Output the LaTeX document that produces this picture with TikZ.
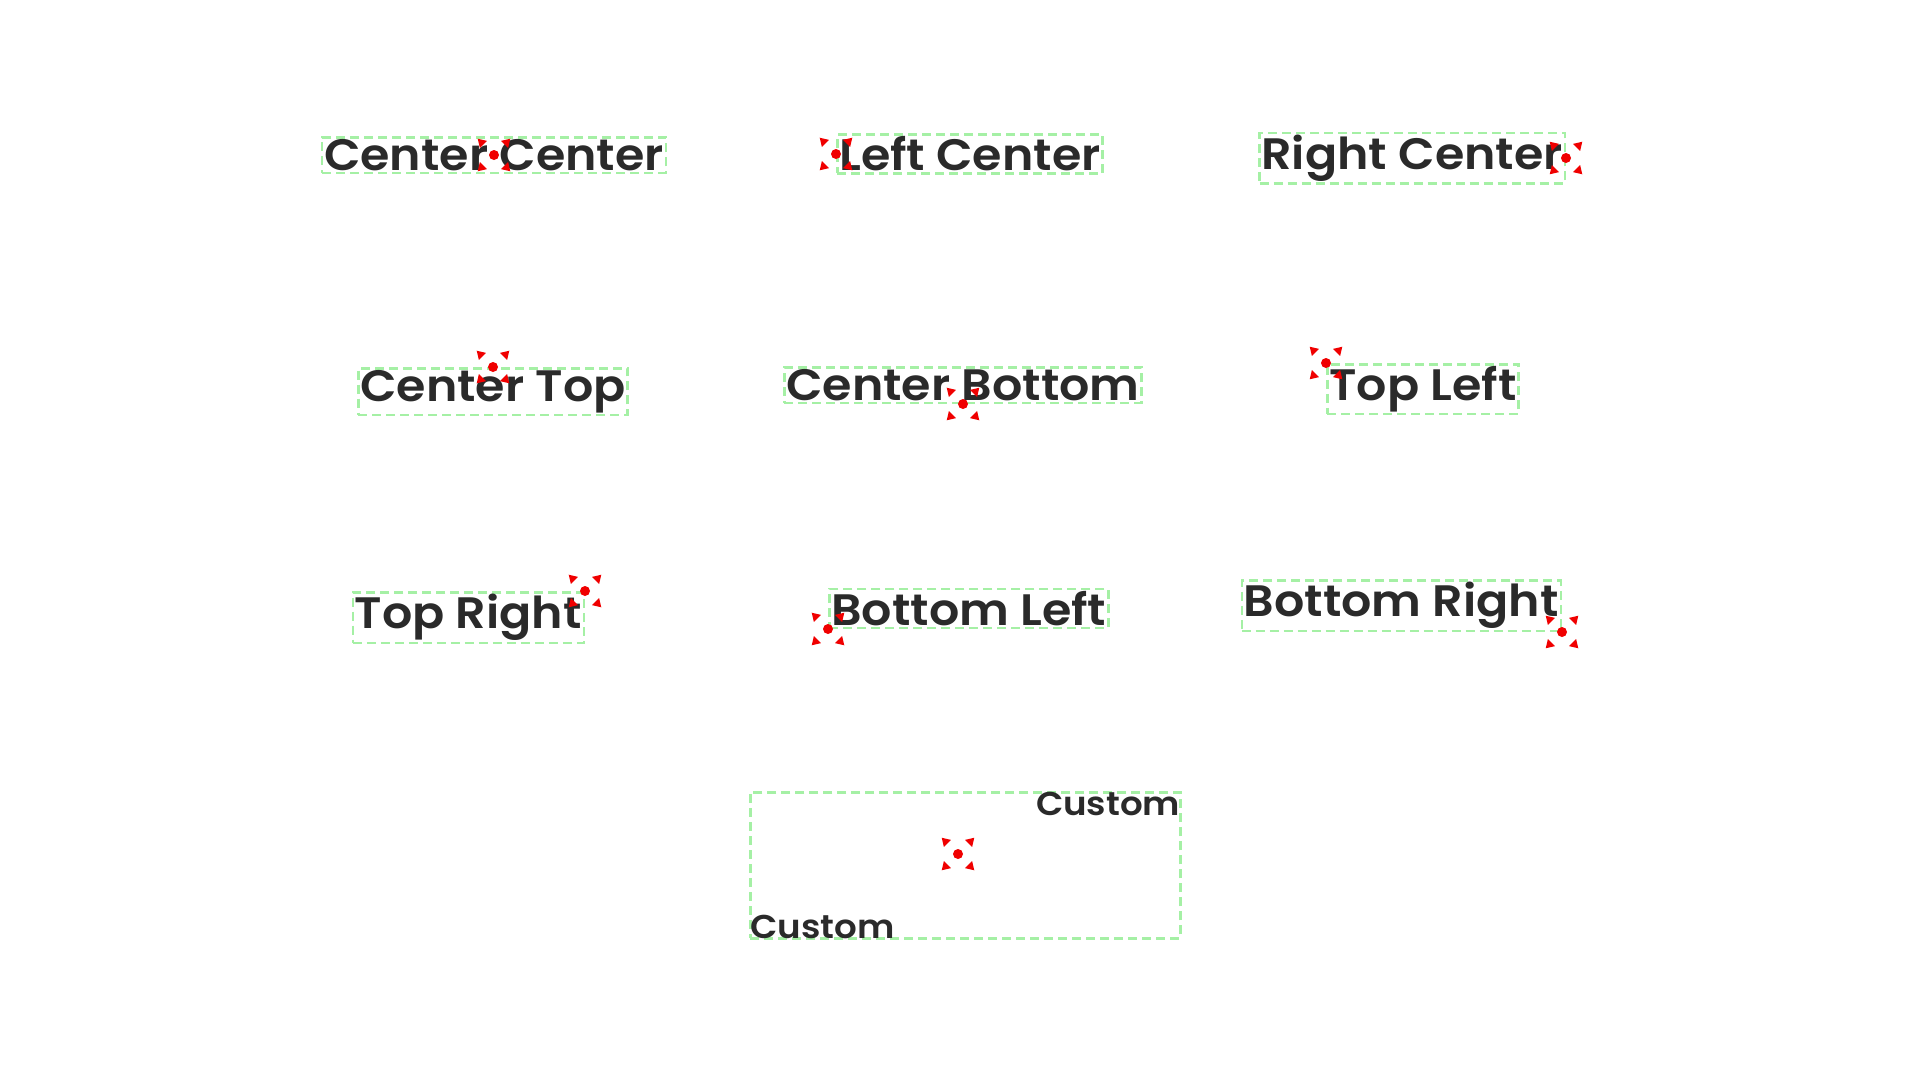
\documentclass[tikz,border=0pt]{standalone}
\usepackage{fontspec}
\setmainfont{Poppins}[BoldFont=Poppins SemiBold,BoldFeatures={FakeStretch=1.08}]
\usepackage{xcolor}
\definecolor{inkgray}{RGB}{42,42,42}
\definecolor{guidegreen}{RGB}{165,240,165}
\definecolor{markred}{RGB}{240,0,0}

\tikzset{
    anchormark/.pic={
        \fill[markred] (0,0) circle[radius=5pt];
        \foreach \a in {45,135,225,315}
            \fill[markred,rotate=\a] (23,0) -- (15,5) -- (15,-5) -- cycle;
    }
}

\begin{document}
\begin{tikzpicture}[x=1pt,y=-1pt,
    lbl/.style={draw=guidegreen,line width=2.5pt,dash pattern=on 9pt off 5pt,
        text=inkgray,font=\fontsize{44}{44}\selectfont\bfseries,inner sep=2pt},
    small/.style={text=inkgray,font=\fontsize{33}{33}\selectfont\bfseries,inner sep=1pt}]

    \fill[white] (0,0) rectangle (1920,1080);

    % row 1
    \coordinate (p1) at (494,155);
    \coordinate (p2) at (836,154);
    \coordinate (p3) at (1566,158);
    \node[lbl,anchor=center] (cc) at (p1) {Center Center};
    \node[lbl,anchor=west] (lc) at (p2) {Left Center};
    \node[lbl,anchor=east] (rc) at (p3) {Right Center};

    % row 2
    \coordinate (p4) at (493,367);
    \coordinate (p5) at (963,404);
    \coordinate (p6) at (1326,363);
    \node[lbl,anchor=north] (ct) at (p4) {Center Top};
    \node[lbl,anchor=south] (cb) at (p5) {Center Bottom};
    \node[lbl,anchor=north west] (tl) at (p6) {Top Left};

    % row 3
    \coordinate (p7) at (585,591);
    \coordinate (p8) at (828,629);
    \coordinate (p9) at (1562,632);
    \node[lbl,anchor=north east] (tr) at (p7) {Top Right};
    \node[lbl,anchor=south west] (bl) at (p8) {Bottom Left};
    \node[lbl,anchor=south east] (br) at (p9) {Bottom Right};

    % custom box
    \node[lbl,minimum width=430pt,minimum height=146pt,anchor=north west] (cbox) at (749,791) {};
    \node[small,anchor=north east] (cne) at (cbox.north east) {Custom};
    \node[small,anchor=south west] (csw) at (cbox.south west) {Custom};
    \coordinate (p10) at (958,854);

    \foreach \p in {p1,p2,p3,p4,p5,p6,p7,p8,p9,p10}
        \pic at (\p) {anchormark};

\end{tikzpicture}
\end{document}
